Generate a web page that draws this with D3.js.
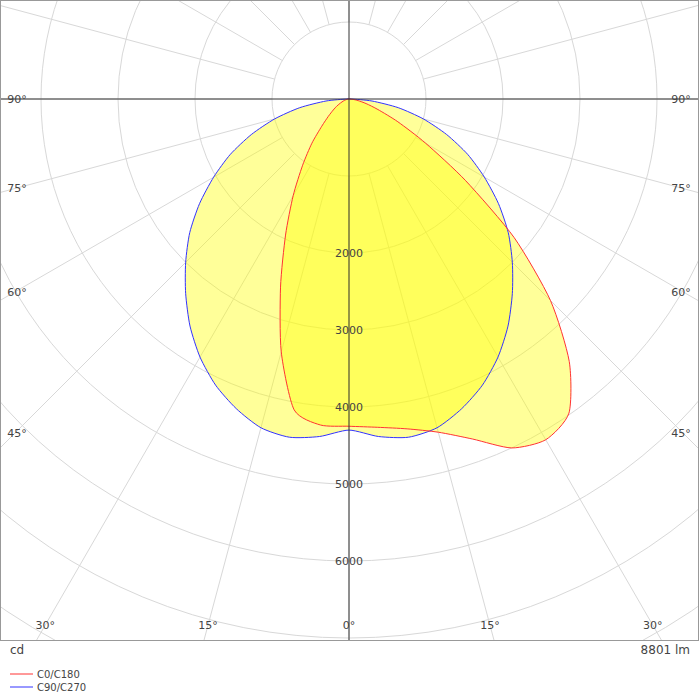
<!DOCTYPE html>
<html><head><meta charset="utf-8">
<script src="https://cdn.jsdelivr.net/npm/d3@7"></script>
<style>body{margin:0;background:#fff}text{font-family:"DejaVu Sans",sans-serif;font-size:11px;fill:#444}</style>
</head><body><svg id="chart" width="700" height="700"></svg>
<script>
// gamma angles (deg from nadir)
const gammas = [0,5,10,15,20,25,30,35,40,45,50,55,60,65,70,75,80,85,90];
const c0 =   [4250,4280,4350,4480,4700,5000,5110,4980,4450,3700,2800,1850,1150,700,400,230,120,50,0];
const c180 = [4250,4250,4100,3400,2600,1950,1450,1050,750,500,350,250,180,120,80,50,25,10,0];
const c90 =  [4300,4400,4460,4420,4280,4100,3870,3600,3300,3000,2700,2370,2030,1700,1350,1000,650,300,30];
const c270 = [4300,4400,4460,4420,4280,4100,3870,3600,3300,3000,2700,2370,2030,1700,1350,1000,650,300,30];
const ringValues = [1000,2000,3000,4000,5000,6000,7000,8000,9000];
const ringLabels = [2000,3000,4000,5000,6000];
const flux = "8801 lm";

const cx = 349, cy = 99, W = 699, H = 640;
const svg = d3.select('#chart');
const r = d3.scaleLinear().domain([0, 1000]).range([0, 77]);

svg.append('clipPath').attr('id', 'clip').append('rect').attr('width', W).attr('height', H);
const g = svg.append('g').attr('clip-path', 'url(#clip)');

// grid circles
g.selectAll('circle.ring').data(ringValues).enter().append('circle')
  .attr('cx', cx).attr('cy', cy).attr('r', d => r(d))
  .attr('fill', 'none').attr('stroke', '#d8d8d8');

// radial lines every 15 deg, starting at the inner ring
const rad = d3.range(0, 360, 15);
g.selectAll('line.sp').data(rad).enter().append('line')
  .attr('x1', d => cx + r(1000) * Math.sin(d * Math.PI / 180))
  .attr('y1', d => cy + r(1000) * Math.cos(d * Math.PI / 180))
  .attr('x2', d => cx + 1200 * Math.sin(d * Math.PI / 180))
  .attr('y2', d => cy + 1200 * Math.cos(d * Math.PI / 180))
  .attr('stroke', '#d8d8d8');

// curves
const line = d3.lineRadial().curve(d3.curveCardinalClosed.tension(0.3));
function shape(right, left) {
  const pts = [];
  for (let i = gammas.length - 1; i >= 0; i--) pts.push([Math.PI - gammas[i] * Math.PI / 180, r(right[i])]);
  for (let i = 1; i < gammas.length; i++) pts.push([Math.PI + gammas[i] * Math.PI / 180, r(left[i])]);
  return line(pts);
}
const curves = g.append('g').attr('transform', `translate(${cx},${cy})`);
curves.append('path').attr('d', shape(c90, c270)).attr('fill', '#ffff00').attr('fill-opacity', 0.4);
curves.append('path').attr('d', shape(c0, c180)).attr('fill', '#ffff00').attr('fill-opacity', 0.4);
curves.append('path').attr('d', shape(c90, c270)).attr('fill', 'none').attr('stroke', '#3333ff');
curves.append('path').attr('d', shape(c0, c180)).attr('fill', 'none').attr('stroke', '#ff3333');

// main axes
g.append('line').attr('x1', 0).attr('x2', W).attr('y1', cy).attr('y2', cy).attr('stroke', '#333');
g.append('line').attr('x1', cx).attr('x2', cx).attr('y1', 0).attr('y2', H).attr('stroke', '#333');

// ring labels
svg.selectAll('text.rl').data(ringLabels).enter().append('text')
  .attr('x', cx).attr('y', d => cy + r(d) + 4).attr('text-anchor', 'middle').text(d => d);

// angle labels
const bottomAngles = [0, 15, 30];
bottomAngles.forEach(a => {
  const dx = Math.tan(a * Math.PI / 180) * 526;
  [-1, 1].forEach(s => {
    if (a === 0 && s < 0) return;
    svg.append('text').attr('x', cx + s * dx).attr('y', 629).attr('text-anchor', 'middle').text(a + '°');
  });
});
const sideAngles = [45, 60, 75, 90];
sideAngles.forEach(a => {
  const dy = a === 90 ? 0 : 334 / Math.tan(a * Math.PI / 180);
  svg.append('text').attr('x', 17).attr('y', cy + dy + 4).attr('text-anchor', 'middle').text(a + '°');
  svg.append('text').attr('x', 681).attr('y', cy + dy + 4).attr('text-anchor', 'middle').text(a + '°');
});

// frame
svg.append('rect').attr('x', 0.5).attr('y', 0.5).attr('width', W - 1).attr('height', H)
  .attr('fill', 'none').attr('stroke', '#999');

svg.append('text').attr('x', 10).attr('y', 654).style('font-size', '12px').text('cd');
svg.append('text').attr('x', 690).attr('y', 654).attr('text-anchor', 'end').style('font-size', '12px').text(flux);

// legend
const legend = [['C0/C180', '#ff3333'], ['C90/C270', '#3333ff']];
legend.forEach((d, i) => {
  const y = 674 + i * 13;
  svg.append('line').attr('x1', 10).attr('x2', 33).attr('y1', y).attr('y2', y).attr('stroke', d[1]);
  svg.append('text').attr('x', 37).attr('y', y + 4).style('font-size', '10px').text(d[0]);
});
</script></body></html>
